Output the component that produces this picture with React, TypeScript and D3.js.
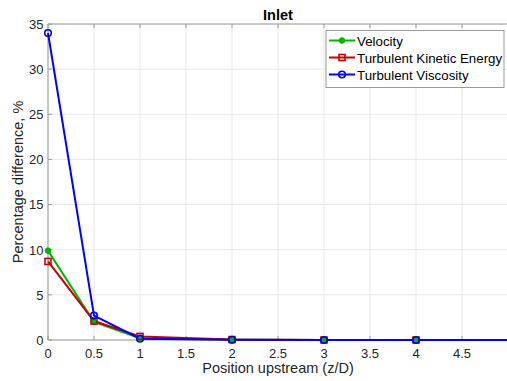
import React from "react";
import * as d3 from "d3";

const positions = [0, 0.5, 1, 2, 3, 4, 6];
const velocity = [9.9, 2.0, 0.2, 0.02, 0, 0, 0];
const tke = [8.7, 2.1, 0.4, 0.05, 0, 0, 0];
const viscosity = [34, 2.7, 0.15, 0.02, 0, 0, 0];
const xTicks = [0, 0.5, 1, 1.5, 2, 2.5, 3, 3.5, 4, 4.5];
const yTicks = [0, 5, 10, 15, 20, 25, 30, 35];
const seriesNames = ["Velocity", "Turbulent Kinetic Energy", "Turbulent Viscosity"];
const seriesColors = ["#00b400", "#c80000", "#0000ff"];

const W = 507, H = 381;
const L = 48, T = 24, R = 508, B = 340;
const FONT = "'Liberation Sans', Arial, Helvetica, sans-serif";

export default function App() {
  const x = d3.scaleLinear().domain([0, 5]).range([L, R]);
  const y = d3.scaleLinear().domain([0, 35]).range([B, T]);
  const line = d3.line<[number, number]>().x(d => x(d[0])).y(d => y(d[1]));
  const all = [velocity, tke, viscosity];
  const marker = (k: number, cx: number, cy: number, key: string) => {
    const c = seriesColors[k];
    if (k === 0) return <circle key={key} cx={cx} cy={cy} r={2.8} fill={c} stroke={c} strokeWidth={1} />;
    if (k === 1) return <rect key={key} x={cx - 3} y={cy - 3} width={6} height={6} fill="none" stroke={c} strokeWidth={1.6} />;
    return <circle key={key} cx={cx} cy={cy} r={3.3} fill="none" stroke={c} strokeWidth={1.6} />;
  };
  return (
    <svg width={W} height={H} style={{ position: "absolute", left: 0, top: 0, background: "#fff" }} fontFamily={FONT}>
      <defs>
        <clipPath id="plotclip">
          <rect x={L - 5} y={T - 5} width={R - L + 10} height={B - T + 10} />
        </clipPath>
      </defs>
      <rect x={0} y={0} width={W} height={H} fill="#fff" />
      {xTicks.map(t => (
        <line key={"gx" + t} x1={x(t)} x2={x(t)} y1={T} y2={B} stroke="#e8e8e8" strokeWidth={1} />
      ))}
      {yTicks.map(t => (
        <line key={"gy" + t} x1={L} x2={R} y1={y(t)} y2={y(t)} stroke="#e8e8e8" strokeWidth={1} />
      ))}
      <line x1={L} x2={R} y1={T} y2={T} stroke="#9a9a9a" strokeWidth={1} />
      <line x1={L} x2={R} y1={B} y2={B} stroke="#9a9a9a" strokeWidth={1} />
      <line x1={L} x2={L} y1={T} y2={B} stroke="#9a9a9a" strokeWidth={1} />
      {xTicks.map(t => (
        <g key={"tx" + t}>
          <line x1={x(t)} x2={x(t)} y1={B} y2={B - 4} stroke="#9a9a9a" />
          <line x1={x(t)} x2={x(t)} y1={T} y2={T + 4} stroke="#9a9a9a" />
          <text x={x(t)} y={B + 18} textAnchor="middle" fontSize={13} fill="#262626">{t}</text>
        </g>
      ))}
      {yTicks.map(t => (
        <g key={"ty" + t}>
          <line x1={L} x2={L + 4} y1={y(t)} y2={y(t)} stroke="#9a9a9a" />
          <text x={L - 4.5} y={y(t) + 4.8} textAnchor="end" fontSize={13} fill="#262626">{t}</text>
        </g>
      ))}
      <g clipPath="url(#plotclip)">
        {all.map((vals, k) => (
          <path key={"l" + k} d={line(positions.map((p, i) => [p, vals[i]] as [number, number])) || ""} fill="none" stroke={seriesColors[k]} strokeWidth={2} />
        ))}
        {all.map((vals, k) => positions.map((p, i) => marker(k, x(p), y(vals[i]), "m" + k + "-" + i)))}
      </g>
      <text x={(L + R) / 2} y={20} textAnchor="middle" fontSize={14.5} fontWeight="bold" fill="#000">Inlet</text>
      <text x={(L + R) / 2} y={373} textAnchor="middle" fontSize={14.5} fill="#262626">Position upstream (z/D)</text>
      <text transform={`translate(23,${(T + B) / 2}) rotate(-90)`} textAnchor="middle" fontSize={14.5} fill="#262626">Percentage difference, %</text>
      <g>
        <rect x={326} y={30.5} width={178} height={57} fill="#fff" stroke="#9a9a9a" strokeWidth={1} />
        {seriesNames.map((n, k) => {
          const ly = 40.5 + k * 17;
          return (
            <g key={"lg" + k}>
              <line x1={329} x2={355} y1={ly} y2={ly} stroke={seriesColors[k]} strokeWidth={2} />
              {marker(k, 342, ly, "lm" + k)}
              <text x={357} y={ly + 5} fontSize={13.3} fill="#000">{n}</text>
            </g>
          );
        })}
      </g>
    </svg>
  );
}
